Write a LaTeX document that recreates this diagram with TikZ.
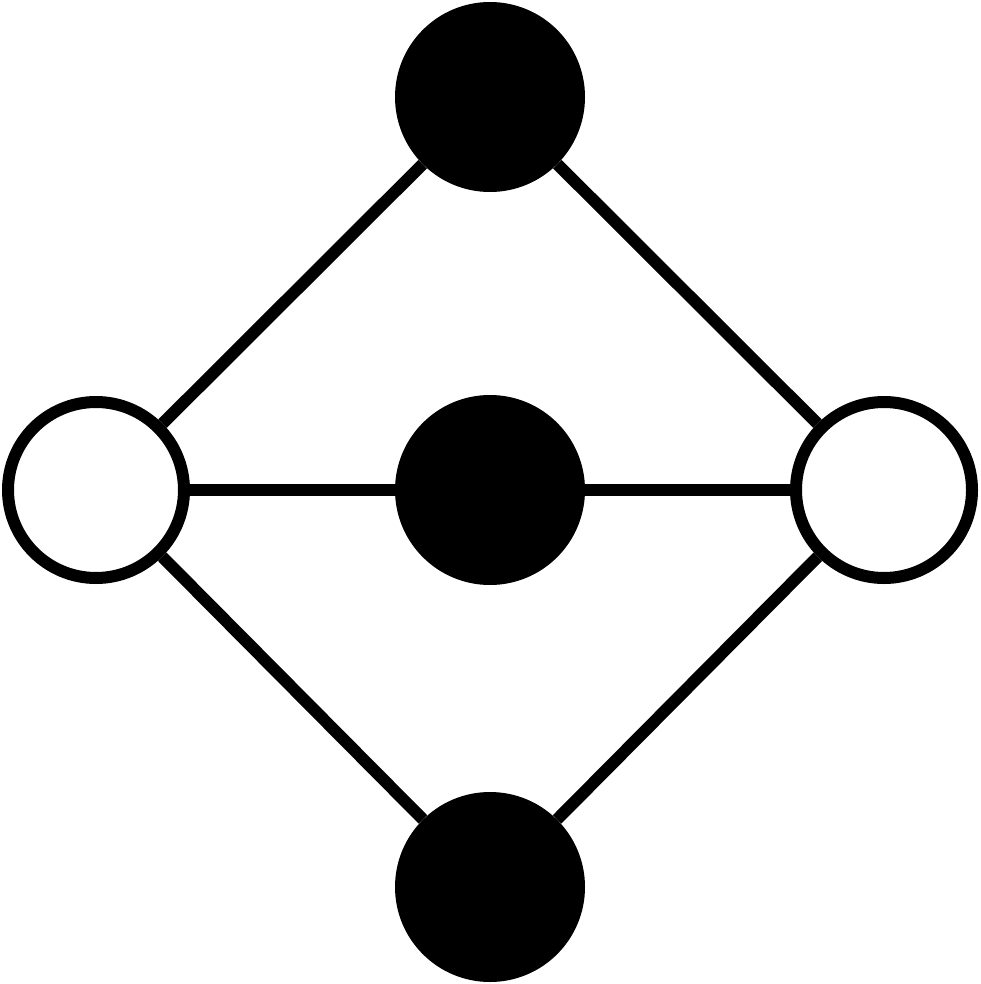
\documentclass[tikz,border=0pt]{standalone}
\begin{document}
\begin{tikzpicture}[x=1pt,y=-1pt,
  blackdot/.style={circle,fill=black,inner sep=0pt,minimum size=190pt},
  whitedot/.style={circle,draw=black,fill=white,line width=12pt,inner sep=0pt,minimum size=176pt},
  edge/.style={line width=12pt}]
\useasboundingbox (0,0) rectangle (980,984);
\node[blackdot] (T) at (490,97) {};
\node[blackdot] (M) at (490,490) {};
\node[blackdot] (B) at (490,887) {};
\node[whitedot] (L) at (96,490) {};
\node[whitedot] (R) at (884,490) {};
\draw[edge] (L) -- (T);
\draw[edge] (T) -- (R);
\draw[edge] (L) -- (B);
\draw[edge] (B) -- (R);
\draw[edge] (L) -- (M);
\draw[edge] (M) -- (R);
\end{tikzpicture}
\end{document}
